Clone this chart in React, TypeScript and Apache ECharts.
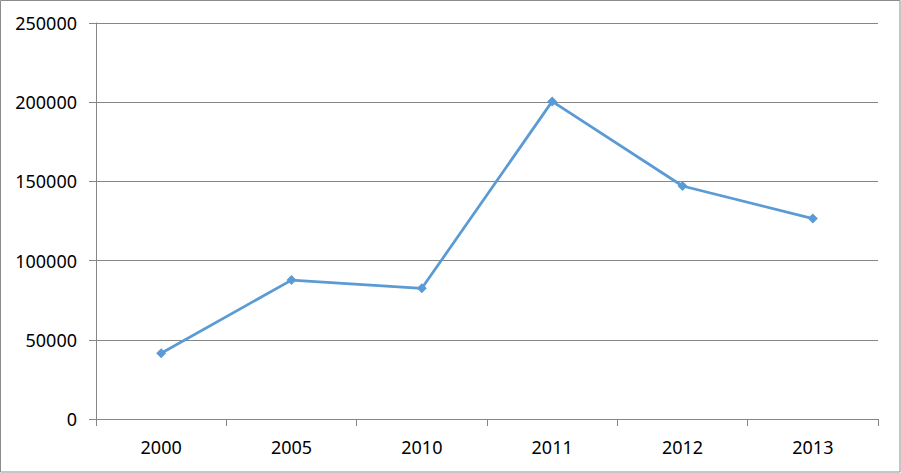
import React, { useEffect, useRef } from "react";
import * as echarts from "echarts";

const categories = ["2000", "2005", "2010", "2011", "2012", "2013"];
const values = [41500, 87700, 82500, 200500, 147100, 126500];
const yMin = 0;
const yMax = 250000;
const yInterval = 50000;

export default function App() {
  const ref = useRef<HTMLDivElement>(null);
  useEffect(() => {
    document.body.style.margin = "0";
    const chart = echarts.init(ref.current!, null, { renderer: "svg" });
    const font = "'Noto Sans', 'Open Sans', sans-serif";
    chart.setOption({
      animation: false,
      backgroundColor: "#fff",
      graphic: [
        {
          type: "rect",
          shape: { x: 0.5, y: 0.5, width: 899.5, height: 471.5 },
          style: { fill: "none", stroke: "#8c8c8c", lineWidth: 1 },
          silent: true,
        },
      ],
      grid: { left: 96, right: 23, top: 23, bottom: 54 },
      xAxis: {
        type: "category",
        data: categories,
        boundaryGap: true,
        axisLine: { lineStyle: { color: "#868686", width: 1 } },
        axisTick: { show: true, length: 7, lineStyle: { color: "#868686" } },
        axisLabel: { color: "#000", fontSize: 18, fontFamily: font, margin: 19 },
      },
      yAxis: {
        type: "value",
        min: yMin,
        max: yMax,
        interval: yInterval,
        axisLine: { show: true, lineStyle: { color: "#868686", width: 1 } },
        axisTick: { show: true, length: 7, lineStyle: { color: "#868686" } },
        splitLine: { show: true, lineStyle: { color: "#868686", width: 1 } },
        axisLabel: {
          color: "#000",
          fontSize: 18,
          fontFamily: font,
          margin: 19,
          formatter: (v: number) => String(v),
        },
      },
      series: [
        {
          type: "line",
          data: values,
          symbol: "diamond",
          symbolSize: 10,
          lineStyle: { color: "#5B9BD5", width: 2.75 },
          itemStyle: { color: "#5B9BD5" },
        },
      ],
    });
    return () => chart.dispose();
  }, []);
  return <div ref={ref} style={{ width: 901, height: 473 }} />;
}
